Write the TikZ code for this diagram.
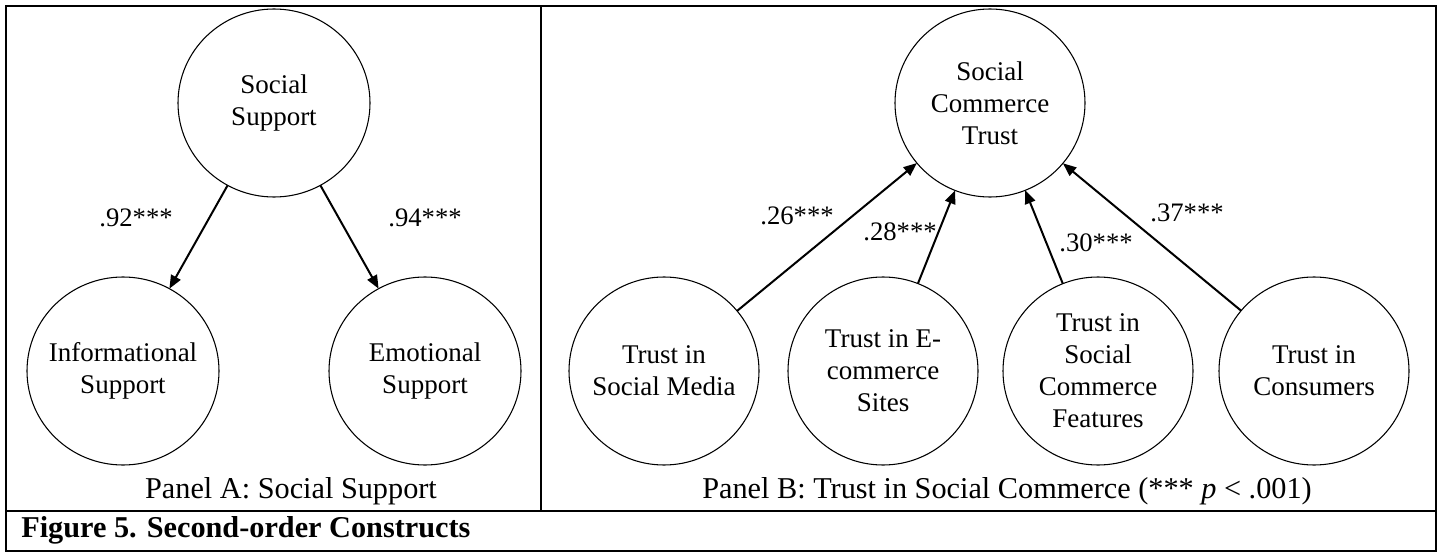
\documentclass[tikz,border=0pt]{standalone}
\usepackage{fontspec}
\setmainfont{Liberation Serif}
\usetikzlibrary{shapes.geometric,arrows.meta}
\begin{document}
\begin{tikzpicture}[x=0.75pt,y=-0.75pt,
  frame/.style={line width=1.7pt},
  ellA/.style={ellipse,draw,line width=0.8pt,inner sep=0pt,outer sep=0pt,minimum width=144pt,minimum height=141pt},
  ellB/.style={ellipse,draw,line width=0.8pt,inner sep=0pt,outer sep=0pt,minimum width=142.5pt,minimum height=141pt},
  txt/.style={font=\fontsize{20.25pt}{24pt}\selectfont,align=center,inner sep=0pt},
  lab/.style={font=\fontsize{20pt}{24pt}\selectfont,inner sep=0pt},
  plab/.style={font=\fontsize{22.7pt}{27pt}\selectfont,inner sep=0pt},
  arr/.style={line width=1.5pt,-{Triangle[length=10pt,width=8pt]}}
]
\useasboundingbox (0,0) rectangle (1440,553);
% frame
\draw[frame] (6,6) rectangle (1436,551);
\draw[frame] (6,511) -- (1436,511);
\draw[frame] (541,6) -- (541,511);

% Panel A
\node[ellA, label={[txt]center:Social\\Support}] (ss) at (274,103) {};
\node[ellA, label={[txt]center:Informational\\Support}] (is) at (123,371) {};
\node[ellA, label={[txt]center:Emotional\\Support}] (es) at (425,371) {};
\draw[arr] (ss) -- (is);
\draw[arr] (ss) -- (es);
\node[lab] (l92) at (136,218) {.92***};
\node[lab] (l94) at (425,218) {.94***};
\node[plab,anchor=base] (pa) at (291,498) {Panel A: Social Support};

% Panel B
\node[ellB, label={[txt]center:Social\\Commerce\\Trust}] (sct) at (990,103) {};
\node[ellB, label={[txt]center:Trust in\\Social Media}] (tsm) at (664,371) {};
\node[ellB, label={[txt]center:Trust in E-\\commerce\\Sites}] (tec) at (883,371) {};
\node[ellB, label={[txt]center:Trust in\\Social\\Commerce\\Features}] (tscf) at (1098,371) {};
\node[ellB, label={[txt]center:Trust in\\Consumers}] (tc) at (1314,371) {};
\draw[arr] (tsm) -- (sct);
\draw[arr] (tec) -- (sct);
\draw[arr] (tscf) -- (sct);
\draw[arr] (tc) -- (sct);
\node[lab] (l26) at (797,216) {.26***};
\node[lab] (l28) at (900,232) {.28***};
\node[lab] (l30) at (1096,243) {.30***};
\node[lab] (l37) at (1187,213) {.37***};
\node[plab,anchor=base] (pb) at (1007,498) {Panel B: Trust in Social Commerce (*** \textit{p} < .001)};

% caption
\node[plab,anchor=base west,font=\fontsize{22.7pt}{27pt}\selectfont\bfseries] (cap) at (21,537) {Figure 5. Second-order Constructs};
\end{tikzpicture}
\end{document}
